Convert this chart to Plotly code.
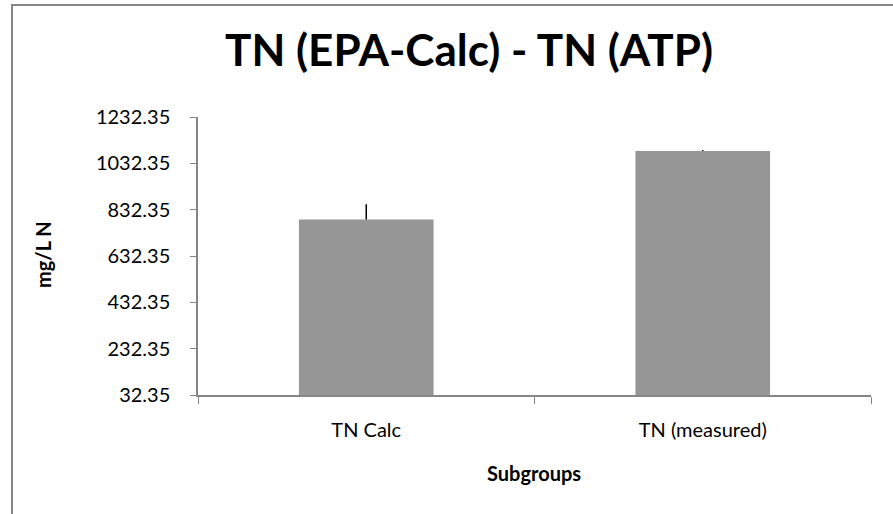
import plotly.graph_objects as go

categories = ["TN Calc", "TN (measured)"]
values = [789.7, 1086.0]
err_plus = [66.0, 4.0]
err_minus = [0.0, 0.0]
y_ticks = [32.35, 232.35, 432.35, 632.35, 832.35, 1032.35, 1232.35]

FONT = "Lato"
W, H = 893, 514
L, R, T, B = 198, 22, 117, 119
PW, PH = W - L - R, H - T - B


def px_x(x):
    return (x - L) / PW


def px_y(y):
    return (H - B - y) / PH


fig = go.Figure()
fig.add_trace(go.Bar(
    x=categories, y=values, width=0.4,
    marker=dict(color="#969696", line=dict(width=0)),
    error_y=dict(type="data", symmetric=False, array=err_plus, arrayminus=err_minus,
                 color="black", thickness=1.5, width=0),
))

fig.update_layout(
    width=W, height=H,
    margin=dict(l=L, r=R, t=T, b=B),
    paper_bgcolor="white", plot_bgcolor="white",
    showlegend=False,
    font=dict(family=FONT, color="black"),
    title=dict(text="<b>TN (EPA-Calc) - TN (ATP)</b>", x=469 / W, xanchor="center",
               y=1 - 51 / H, yanchor="middle", font=dict(size=44, family=FONT, color="black")),
    xaxis=dict(
        type="category", range=[-0.5, 1.5], showline=True, linecolor="#868686", linewidth=1.5,
        ticks="outside", tickson="boundaries", ticklen=7, tickcolor="#868686",
        tickfont=dict(size=20, family=FONT), showgrid=False, ticklabelstandoff=16,
    ),
    yaxis=dict(
        range=[32.35, 1232.35], tickvals=y_ticks, ticktext=[f"{v:.2f}" for v in y_ticks],
        showline=True, linecolor="#868686", linewidth=1.5,
        ticks="outside", ticklen=6, tickcolor="#868686", showgrid=False, zeroline=False,
        tickfont=dict(size=20, family=FONT), ticklabelstandoff=16,
    ),
    annotations=[
        dict(text="<b>Subgroups</b>", xref="paper", yref="paper", x=px_x(534), y=px_y(473),
             xanchor="center", yanchor="middle", showarrow=False,
             font=dict(size=20, family=FONT, color="black")),
        dict(text="<b>mg/L N</b>", xref="paper", yref="paper", x=px_x(43), y=px_y(255),
             xanchor="center", yanchor="middle", showarrow=False, textangle=-90,
             font=dict(size=20, family=FONT, color="black")),
    ],
    shapes=[dict(type="rect", xref="paper", yref="paper",
                 x0=px_x(12), x1=px_x(950), y0=px_y(560), y1=px_y(5),
                 line=dict(color="#868686", width=2), fillcolor="rgba(0,0,0,0)", layer="below")],
)

fig.write_html("out.html", config={"displayModeBar": False},
               post_script="document.body.style.margin='0';document.body.style.overflow='hidden';")
